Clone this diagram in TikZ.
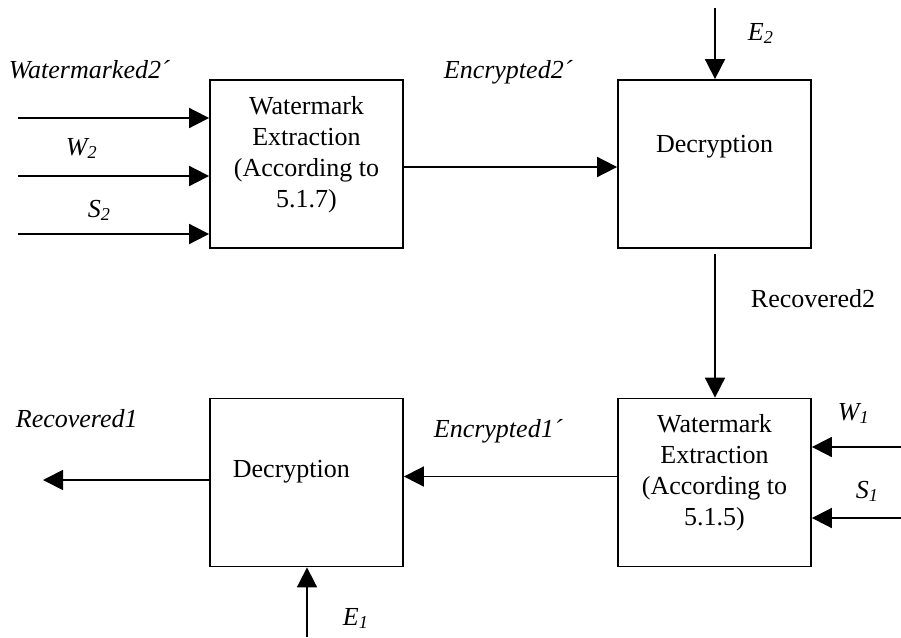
\documentclass[tikz,border=0pt]{standalone}
\usepackage{fontspec}
\setmainfont{Liberation Serif}
\usetikzlibrary{arrows.meta}
\begin{document}
\begin{tikzpicture}[x=1pt,y=-1pt,
  line width=1.8pt,
  box/.style={draw,minimum width=193pt,minimum height=168pt,inner sep=0pt},
  arr/.style={-{Triangle[length=20pt,width=20pt]}},
  lbl/.style={font=\fontsize{26}{31}\selectfont\itshape,inner sep=0pt,anchor=base west},
  txt/.style={font=\fontsize{26}{31}\selectfont,inner sep=0pt},
  blk/.style={txt,align=center}]
\useasboundingbox (0,0) rectangle (901,637);

% processing blocks
\node[box] (ext2) at (306.5,164) {};
\node[box] (dec2) at (714.5,164) {};
\node[box] (ext1) at (714.5,482.5) {};
\node[box] (dec1) at (306.5,482.5) {};

% block captions
\node[blk] (ext2t) at (306.5,155) {Watermark\\Extraction\\(According to\\5.1.7)};
\node[txt,anchor=base] (dec2t) at (714.5,152) {Decryption};
\node[blk] (ext1t) at (714.5,473) {Watermark\\Extraction\\(According to\\5.1.5)};
\node[txt,anchor=base west] (dec1t) at (232,477) {Decryption};

% free ends of the inputs and outputs
\coordinate (inA) at (18,118);
\coordinate (inB) at (18,176);
\coordinate (inC) at (18,234);
\coordinate (inE2) at (715,8);
\coordinate (inW1) at (901,447);
\coordinate (inS1) at (901,518);
\coordinate (inE1) at (307,637);
\coordinate (out1) at (43,480);
\coordinate (d2out) at (715,254);

% inputs of the upper extraction block
\draw[arr] (inA) -- (inA -| ext2.west);
\draw[arr] (inB) -- (inB -| ext2.west);
\draw[arr] (inC) -- (inC -| ext2.west);

% upper chain
\draw[arr] (ext2.east |- 0,167) -- (dec2.west |- 0,167);
\draw[arr] (inE2) -- (inE2 |- dec2.north);
\draw[arr] (d2out) -- (d2out |- ext1.north);

% inputs of the lower extraction block
\draw[arr] (inW1) -- (inW1 -| ext1.east);
\draw[arr] (inS1) -- (inS1 -| ext1.east);

% lower chain
\draw[arr] (ext1.west |- 0,476.5) -- (dec1.east |- 0,476.5);
\draw[arr] (dec1.west |- out1) -- (out1);
\draw[arr] (inE1) -- (inE1 |- dec1.south);

% signal labels
\node[lbl] (lwm2) at (8,78) {Watermarked2´};
\node[lbl] (lw2) at (65,155) {W\textsubscript{2}};
\node[lbl] (ls2) at (87,217) {S\textsubscript{2}};
\node[lbl] (lenc2) at (443,78) {Encrypted2´};
\node[lbl] (le2) at (747,40) {E\textsubscript{2}};
\node[txt,anchor=base west] (lrec2) at (750,307) {Recovered2};
\node[lbl] (lw1) at (837,420) {W\textsubscript{1}};
\node[lbl] (ls1) at (855,498) {S\textsubscript{1}};
\node[lbl] (lenc1) at (433,437) {Encrypted1´};
\node[lbl] (lrec1) at (15,427) {Recovered1};
\node[lbl] (le1) at (342,625) {E\textsubscript{1}};
\end{tikzpicture}
\end{document}
